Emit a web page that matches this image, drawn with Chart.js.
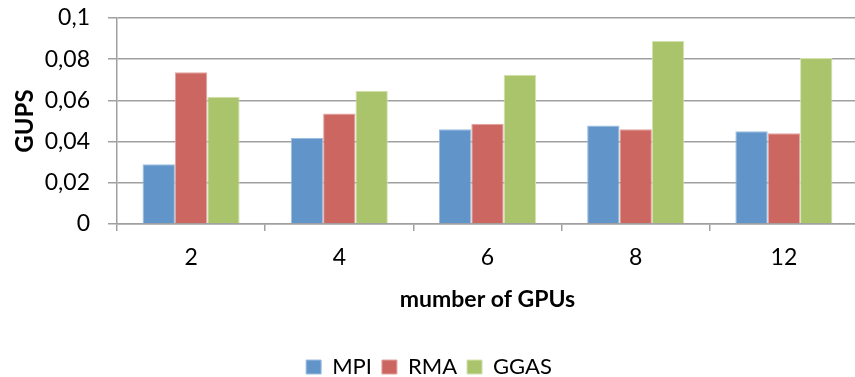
<!DOCTYPE html>
<html>
<head>
<meta charset="utf-8">
<script src="https://cdn.jsdelivr.net/npm/chart.js@4/dist/chart.umd.min.js"></script>
<style>
	html, body { margin: 0; padding: 0; background: #fff; overflow: hidden; }
	#wrap { width: 858px; height: 388px; }
</style>
</head>
<body>
<div id="wrap"><canvas id="gupsChart"></canvas></div>
<script>
// GUPS per GPU count
const gpuCounts = ['2', '4', '6', '8', '12'];
const mpiValues = [0.029, 0.0418, 0.046, 0.0478, 0.045];
const rmaValues = [0.0737, 0.0537, 0.0487, 0.046, 0.044];
const ggasValues = [0.0618, 0.0647, 0.0724, 0.0888, 0.0806];
const yTicks = [0, 0.02, 0.04, 0.06, 0.08, 0.1];

const gridGray = '#a0a0a0';
const font = 'Lato, "Liberation Sans", sans-serif';

Chart.defaults.font.family = font;
Chart.defaults.color = '#000';

new Chart(document.getElementById('gupsChart'), {
	type: 'bar',
	data: {
		labels: gpuCounts,
		datasets: [{
			label: 'MPI',
			data: mpiValues,
			backgroundColor: '#6195c9',
			borderColor: '#9dbde0',
			borderWidth: 1
		}, {
			label: 'RMA',
			data: rmaValues,
			backgroundColor: '#cc6660',
			borderColor: '#e3a3a0',
			borderWidth: 1
		}, {
			label: 'GGAS',
			data: ggasValues,
			backgroundColor: '#a9c46b',
			borderColor: '#d3e2ae',
			borderWidth: 1
		}]
	},
	options: {
		responsive: true,
		maintainAspectRatio: false,
		animation: false,
		datasets: {
			bar: { categoryPercentage: 0.655, barPercentage: 1 }
		},
		layout: { padding: { top: 18, left: 0, right: 0, bottom: 0 } },
		plugins: {
			tooltip: { enabled: false },
			legend: {
				position: 'bottom',
				labels: {
					font: { size: 22 },
					boxWidth: 15,
					boxHeight: 14,
					padding: 10
				}
			}
		},
		scales: {
			x: {
				grid: {
					display: true,
					drawOnChartArea: false,
					offset: true,
					color: gridGray,
					lineWidth: 1.5,
					tickLength: 7
				},
				border: { color: gridGray, width: 1.5 },
				ticks: { font: { size: 23 }, padding: 13 },
				title: {
					display: true,
					text: 'mumber of GPUs',
					font: { size: 23, weight: 'bold' },
					padding: { top: 4, bottom: 33 }
				},
				afterFit: s => { s.height = 122; }
			},
			y: {
				min: 0,
				max: 0.1,
				afterBuildTicks: s => { s.ticks = yTicks.map(v => ({ value: v })); },
				grid: { color: gridGray, lineWidth: 1.5, tickLength: 9 },
				border: { color: gridGray, width: 1.5 },
				ticks: {
					font: { size: 23, lineHeight: 1 },
					padding: 18,
					callback: v => v === 0 ? '0' : String(+v.toFixed(2)).replace('.', ',')
				},
				title: {
					display: true,
					text: 'GUPS',
					font: { size: 24, weight: 'bold' },
					padding: { top: 11, bottom: 0 }
				},
				afterFit: s => {
					s.width = 117;
					s.paddingTop = 0;
					s.paddingBottom = 0;
				}
			}
		}
	}
});
</script>
</body>
</html>
